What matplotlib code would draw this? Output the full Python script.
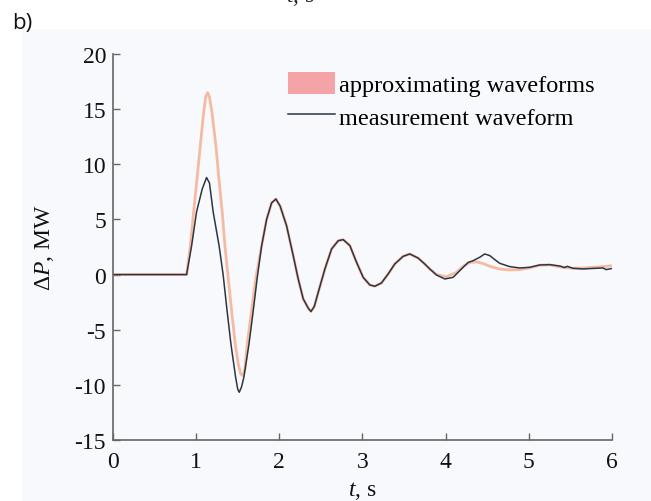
import matplotlib
matplotlib.use('Agg')
import matplotlib.pyplot as plt
from matplotlib.patches import Rectangle, Patch
from matplotlib.lines import Line2D

plt.rcParams['font.family'] = 'Liberation Serif'
plt.rcParams['mathtext.fontset'] = 'custom'
plt.rcParams['mathtext.rm'] = 'Liberation Serif'
plt.rcParams['mathtext.it'] = 'Liberation Serif:italic'
plt.rcParams['axes.unicode_minus'] = False

t_meas = [0, 0.885, 0.945, 1.005, 1.073, 1.125, 1.16, 1.204, 1.276, 1.324, 1.372,
          1.418, 1.474, 1.50, 1.518, 1.545, 1.574, 1.635, 1.686, 1.734, 1.787,
          1.847, 1.907, 1.959, 2.01, 2.087, 2.167, 2.227, 2.287, 2.348, 2.38,
          2.42, 2.468, 2.548, 2.628, 2.708, 2.768, 2.848, 2.928, 3.008, 3.088,
          3.148, 3.228, 3.308, 3.388, 3.488, 3.568, 3.668, 3.75, 3.81, 3.89,
          3.99, 4.09, 4.17, 4.27, 4.33, 4.41, 4.47, 4.53, 4.59, 4.65, 4.77,
          4.89, 5.01, 5.13, 5.25, 5.37, 5.43, 5.46, 5.53, 5.65, 5.81, 5.89,
          5.93, 5.99]
p_meas = [0, 0, 2.6, 5.7, 7.76, 8.8, 8.3, 5.7, 2.6, 0, -3.3,
          -6.3, -9.3, -10.4, -10.67, -10.2, -9.3, -6.3, -3.3, -0.3, 2.6,
          5.0, 6.5, 6.85, 6.2, 4.43, 1.71, -0.4, -2.2, -3.05, -3.35,
          -2.9, -1.6, 0.51, 2.32, 3.07, 3.17, 2.63, 1.12, -0.25, -0.94,
          -1.06, -0.76, 0.05, 0.96, 1.65, 1.87, 1.5, 0.95, 0.5, -0.04,
          -0.4, -0.25, 0.36, 1.1, 1.26, 1.57, 1.87, 1.72, 1.36, 1.02, 0.72,
          0.6, 0.66, 0.87, 0.9, 0.78, 0.63, 0.75, 0.57, 0.51, 0.57, 0.6,
          0.45, 0.54]

# approximating waveform
t_appr = [0, 0.885, 0.93, 0.97, 1.01, 1.05, 1.09, 1.115, 1.137, 1.16, 1.19,
          1.237, 1.273, 1.313, 1.346, 1.385, 1.426, 1.47, 1.506, 1.535, 1.56,
          1.585, 1.614, 1.666, 1.72, 1.787, 1.847, 1.907, 1.959, 2.01, 2.087,
          2.167, 2.227, 2.287, 2.348, 2.38, 2.42, 2.468, 2.548, 2.628, 2.708,
          2.768, 2.848, 2.928, 3.008, 3.088, 3.148, 3.228, 3.308, 3.388, 3.488,
          3.568, 3.668, 3.75, 3.81, 3.89, 4.01, 4.13, 4.22, 4.29, 4.37, 4.45,
          4.55, 4.65, 4.77, 4.89, 5.01, 5.13, 5.25, 5.37, 5.53, 5.65, 5.81,
          5.93, 5.99]
p_appr = [0, 0, 2.6, 5.7, 8.7, 11.7, 14.7, 16.1, 16.5, 16.1, 14.7,
          11.7, 8.7, 5.7, 2.6, -0.3, -3.3, -6.3, -8.1, -9.0, -9.16,
          -8.6, -6.3, -3.3, -0.2, 2.6, 5.0, 6.5, 6.85, 6.2, 4.43,
          1.71, -0.4, -2.2, -3.05, -3.35, -2.9, -1.6, 0.51, 2.32, 3.07,
          3.17, 2.63, 1.12, -0.25, -0.94, -1.06, -0.76, 0.05, 0.96, 1.65,
          1.87, 1.5, 0.95, 0.5, 0.0, -0.2, 0.2, 0.8, 1.1, 1.15, 1.0,
          0.7, 0.5, 0.42, 0.45, 0.6, 0.85, 0.88, 0.7, 0.57, 0.6, 0.68,
          0.75, 0.8]

xticks = [0, 1, 2, 3, 4, 5, 6]
yticks = [-15, -10, -5, 0, 5, 10, 15, 20]

fig = plt.figure(figsize=(6.51, 5.02), dpi=100)
fig.patch.set_facecolor('white')
fig.patches.append(Rectangle((22/651, 0), 1, 1 - 30/502, transform=fig.transFigure,
                             facecolor='#f8f9fc', edgecolor='none', zorder=-10))

# bottom of the previous panel's axis label, cut by the crop
fig.text(300/651, 1 - 2/502, '$t$, s', ha='center', va='baseline', fontsize=17,
         color='#222222')
fig.text(12/651, 1 - 29/502, 'b)', family='Open Sans', fontsize=16, color='#111111')

ax = fig.add_axes([113/651, 61/502, 499/651, 386/502])
ax.set_facecolor('none')

ax.plot(t_appr, p_appr, color='#f5a07c', lw=2.0, alpha=0.7, solid_capstyle='round')
ax.plot(t_meas, p_meas, color='#2b3642', lw=1.1)

ax.set_xlim(0, 6)
ax.set_ylim(-15, 20)
ax.set_xticks(xticks)
ax.set_yticks(yticks)
ax.tick_params(direction='in', length=5, width=1, color='#666666',
               labelsize=17, labelcolor='#111111')
ax.tick_params(axis='x', pad=8)
ax.tick_params(axis='y', pad=5)
for s in ['top', 'right']:
    ax.spines[s].set_visible(False)
for s in ['left', 'bottom']:
    ax.spines[s].set_color('#666666')
    ax.spines[s].set_linewidth(1.2)

ax.set_xlabel('$t$, s', fontsize=17, labelpad=5, color='#111111')
ax.set_ylabel('$\\Delta P$, MW', fontsize=17, labelpad=13, color='#111111')

handles = [Patch(facecolor='#f4a3a6', edgecolor='none'),
           Line2D([], [], color='#2b3642', lw=1.1)]
ax.legend(handles, ['approximating waveforms', 'measurement waveform'],
          loc='upper left', bbox_to_anchor=(0.327, 0.985), frameon=False,
          fontsize=17.5, handlelength=1.9, handleheight=1.0, handletextpad=0.2,
          labelspacing=0.35, borderpad=0.0)

fig.savefig('out.png', dpi=100)
